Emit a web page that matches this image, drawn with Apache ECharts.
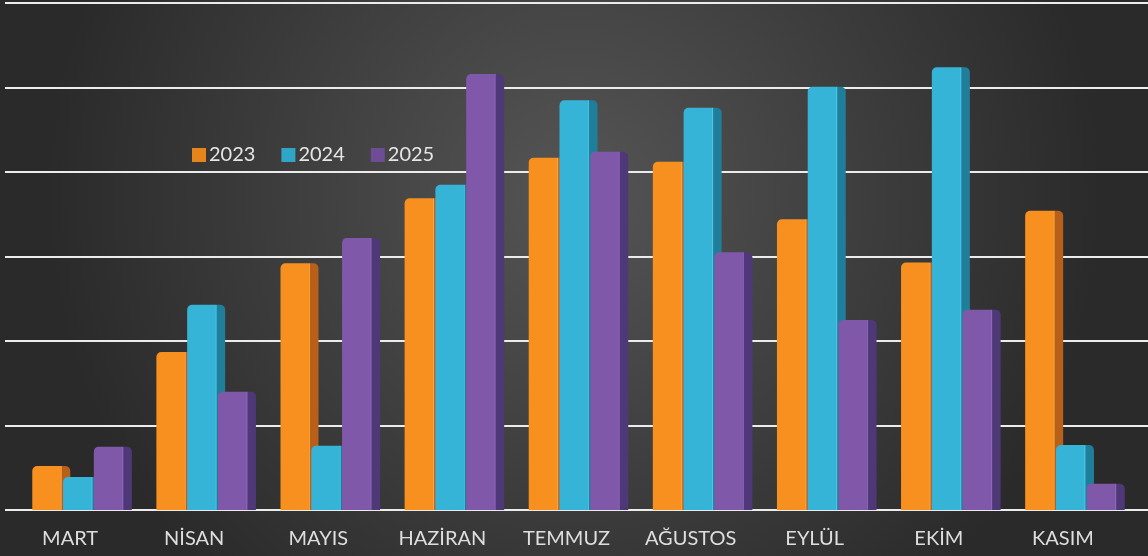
<!DOCTYPE html>
<html>
<head>
<meta charset="utf-8">
<script src="https://cdn.jsdelivr.net/npm/echarts@6/dist/echarts.min.js"></script>
<style>html,body{margin:0;padding:0;background:#333;}#c{width:1148px;height:556px;}</style>
</head>
<body>
<div id="c"></div>
<script>
const categories = ['MART', 'NİSAN', 'MAYIS', 'HAZİRAN', 'TEMMUZ', 'AĞUSTOS', 'EYLÜL', 'EKİM', 'KASIM'];
const seriesNames = ['2023', '2024', '2025'];
const values2023 = [0.52, 1.87, 2.92, 3.69, 4.17, 4.12, 3.44, 2.93, 3.54];
const values2024 = [0.39, 2.43, 0.76, 3.85, 4.85, 4.76, 5.01, 5.24, 0.77];
const values2025 = [0.75, 1.40, 3.22, 5.16, 4.24, 3.05, 2.25, 2.37, 0.31];
const yTicks = [0, 1, 2, 3, 4, 5, 6];

const palettes = [
  { main: '#F7901F', hi: '#FBA444', side: '#B8601A', icon: '#E8841C' },
  { main: '#36B4D8', hi: '#4CC6E6', side: '#1F7F9A', icon: '#2FA6C8' },
  { main: '#7F58AA', hi: '#8E67BA', side: '#4E3877', icon: '#6E4C96' }
];
function barFill(p) {
  return new echarts.graphic.LinearGradient(0, 0, 1, 0, [
    { offset: 0, color: p.main },
    { offset: 0.74, color: p.main },
    { offset: 0.76, color: p.hi },
    { offset: 0.79, color: p.side },
    { offset: 1, color: p.side }
  ]);
}
const allValues = [values2023, values2024, values2025];
const chart = echarts.init(document.getElementById('c'));
const series = allValues.map((vals, i) => ({
  name: seriesNames[i],
  type: 'bar',
  xAxisIndex: 1,
  yAxisIndex: 1,
  data: vals,
  barWidth: 38,
  barGap: '-19%',
  itemStyle: { color: barFill(palettes[i]), borderRadius: [5, 5, 0, 0] }
}));

chart.setOption({
  animation: false,
  backgroundColor: new echarts.graphic.RadialGradient(0.5, 0.35, 0.95, [
    { offset: 0, color: '#555555' },
    { offset: 1, color: '#2a2a2a' }
  ]),
  legend: {
    left: 187,
    top: 140,
    itemWidth: 14,
    itemHeight: 14,
    itemGap: 26,
    icon: 'rect',
    textStyle: { color: '#e6e6e6', fontSize: 20, fontFamily: 'Lato', padding: [0, 0, 0, -2] },
    data: seriesNames.map((n, i) => ({ name: n, itemStyle: { color: palettes[i].icon } }))
  },
  grid: [
    { left: 5, right: 0, top: 3, bottom: 46 },
    { left: 20, width: 1117, top: 3, bottom: 46 }
  ],
  xAxis: [
    { type: 'category', gridIndex: 0, data: [''], show: false },
    {
      type: 'category', gridIndex: 1, data: categories,
      axisLine: { show: false }, axisTick: { show: false },
      axisLabel: { color: '#dedede', fontSize: 20, fontFamily: 'Lato', margin: 19, padding: [0, 24, 0, 0] }
    }
  ],
  yAxis: [
    {
      type: 'value', gridIndex: 0, min: yTicks[0], max: yTicks[yTicks.length - 1], interval: 1,
      axisLabel: { show: false }, axisLine: { show: false }, axisTick: { show: false },
      splitLine: { show: true, lineStyle: { color: '#ececec', width: 2 } }
    },
    {
      type: 'value', gridIndex: 1, min: yTicks[0], max: yTicks[yTicks.length - 1], interval: 1,
      show: false, splitLine: { show: false }
    }
  ],
  series: series
});
</script>
</body>
</html>
